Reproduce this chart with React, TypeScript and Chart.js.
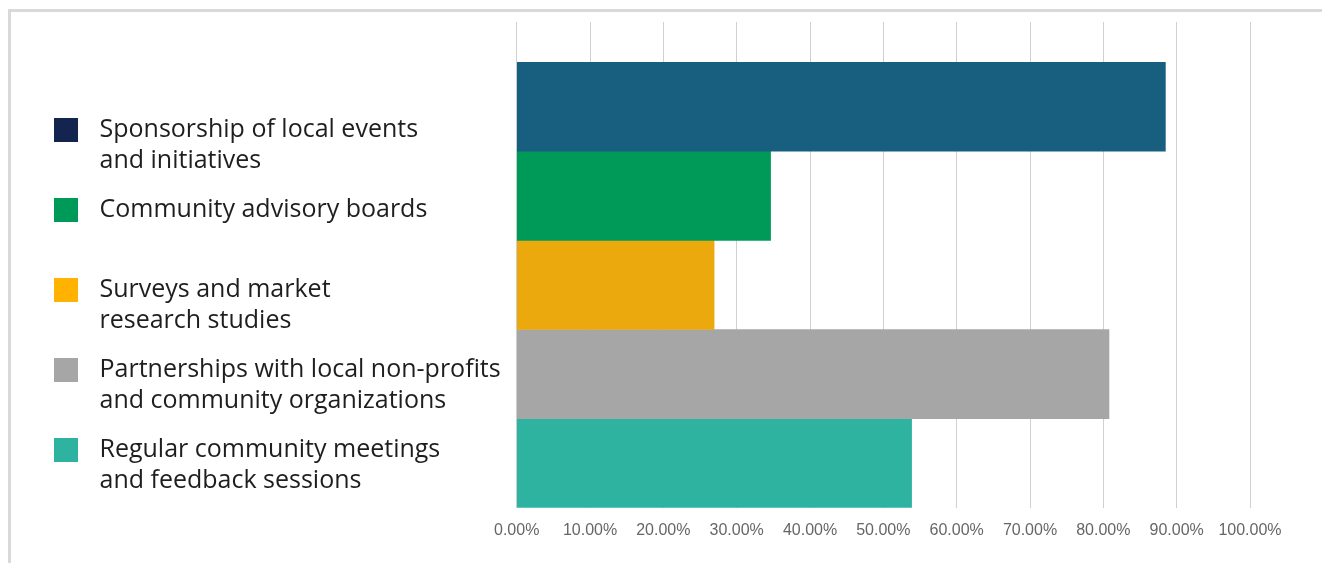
import React, { useEffect, useRef } from "react";
import { Chart, registerables } from "chart.js";

Chart.register(...registerables);

// ---- Data ----
const categories = [
  "Sponsorship of local events and initiatives",
  "Community advisory boards",
  "Surveys and market research studies",
  "Partnerships with local non-profits and community organizations",
  "Regular community meetings and feedback sessions",
];
const legendLines: string[][] = [
  ["Sponsorship of local events", "and initiatives"],
  ["Community advisory boards", ""],
  ["Surveys and market", "research studies"],
  ["Partnerships with local non-profits", "and community organizations"],
  ["Regular community meetings", "and feedback sessions"],
];
const values = [88.46, 34.62, 26.92, 80.77, 53.85];
const barColors = ["#175e7f", "#009a58", "#eca90d", "#a6a6a6", "#2eb3a1"];
const legendColors = ["#13244f", "#009a58", "#ffb300", "#a6a6a6", "#2eb3a1"];
const xTickLabels = [
  "0.00%", "10.00%", "20.00%", "30.00%", "40.00%", "50.00%",
  "60.00%", "70.00%", "80.00%", "90.00%", "100.00%",
];

const GRID = "#d0d0d0";

export default function App() {
  const ref = useRef<HTMLCanvasElement | null>(null);

  useEffect(() => {
    if (!ref.current) return;
    const swatches = legendColors.map((c) => {
      const s = document.createElement("canvas");
      s.width = 24;
      s.height = 24;
      const g = s.getContext("2d")!;
      g.fillStyle = c;
      g.fillRect(0, 0, 24, 24);
      return s;
    });

    const chart = new Chart(ref.current, {
      type: "bar",
      data: {
        labels: [""],
        datasets: categories.map((name, i) => ({
          label: name,
          data: [values[i]],
          backgroundColor: barColors[i],
          borderWidth: 0,
          categoryPercentage: 1,
          barPercentage: 1,
          xAxisID: "x",
          yAxisID: "y",
        })),
      },
      options: {
        indexAxis: "y",
        animation: false,
        responsive: false,
        layout: { padding: { top: 10, left: 17, right: 72, bottom: 11 } },
        plugins: {
          tooltip: { enabled: false },
          legend: {
            position: "left",
            align: "start",
            maxWidth: 700,
            title: {
              display: true,
              text: " ",
              font: { size: 10, lineHeight: "10px" },
              padding: { top: 68, bottom: 0 },
            },
            labels: {
              usePointStyle: true,
              pointStyleWidth: 42,
              padding: 17,
              color: "#1e1e1e",
              font: { family: "Open Sans", size: 25, lineHeight: "31.5px" },
              generateLabels: (c: any) =>
                c.data.datasets.map((_: any, i: number) => ({
                  text: legendLines[i],
                  fillStyle: legendColors[i],
                  strokeStyle: legendColors[i],
                  lineWidth: 0,
                  hidden: false,
                  datasetIndex: i,
                  pointStyle: swatches[i],
                  fontColor: "#1e1e1e",
                })),
            },
          },
        },
        scales: {
          x: {
            type: "linear",
            position: "bottom",
            min: 0,
            max: 100,
            grid: { color: GRID, drawTicks: false, lineWidth: 1 },
            border: { display: false },
            ticks: {
              stepSize: 10,
              padding: 13,
              color: "#666",
              font: { family: "Liberation Sans", size: 16 },
              callback: (_v: any, i: number) => xTickLabels[i],
            },
          },
          x2: {
            type: "linear",
            position: "top",
            min: 0,
            max: 100,
            grid: {
              color: GRID,
              drawOnChartArea: false,
              drawTicks: true,
              tickLength: 40,
              lineWidth: 1,
            },
            border: { display: false },
            ticks: { stepSize: 10, display: false },
          },
          y: {
            type: "category",
            display: true,
            grid: { display: false, drawTicks: true, tickLength: 6 },
            border: { display: false },
            ticks: { display: false },
          },
        },
      } as any,
    });
    return () => chart.destroy();
  }, []);

  return (
    <div
      style={{
        position: "relative",
        top: 1,
        width: 1311,
        height: 552,
        borderTop: "3px solid #d9d9d9",
        borderLeft: "3px solid #d9d9d9",
      }}
    >
      <canvas ref={ref} width={1311} height={552} style={{ display: "block" }} />
    </div>
  );
}
